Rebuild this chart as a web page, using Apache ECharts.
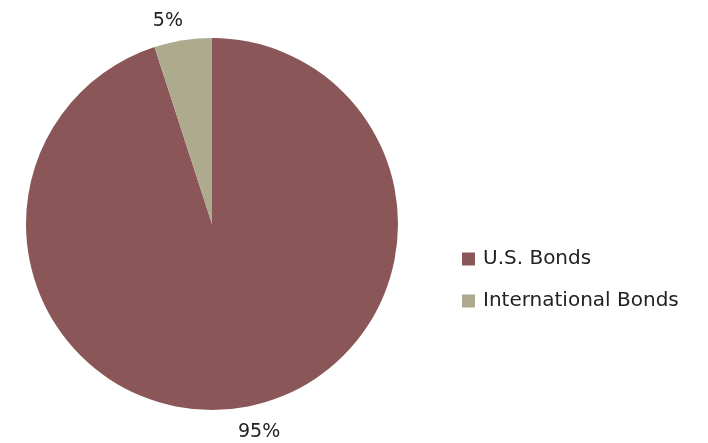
<!DOCTYPE html>
<html>
<head>
<meta charset="utf-8">
<script src="https://cdn.jsdelivr.net/npm/echarts@6/dist/echarts.min.js"></script>
<style>
html, body { margin: 0; padding: 0; background: #ffffff; }
#chart { width: 708px; height: 443px; }
</style>
</head>
<body>
<div id="chart"></div>
<script>
// Bond allocation, percent of total
var categories = ['U.S. Bonds', 'International Bonds'];
var values = [95, 5];
var colors = ['#8a5658', '#adaa8e'];

var chart = echarts.init(document.getElementById('chart'), null, { renderer: 'canvas' });

// label placement per slice: the right-side label sits a bit left of its anchor,
// the left-side one a bit right and closer to the rim
var labelPads = [[0, 0, 0, -12], [0, -8, 0, 0]];
var labelGaps = [25, 19];

var pieData = categories.map(function (name, i) {
  return {
    name: name,
    value: values[i],
    itemStyle: { color: colors[i] },
    label: { padding: labelPads[i] },
    labelLine: { show: false, length: labelGaps[i], length2: 0 }
  };
});

chart.setOption({
  animation: false,
  backgroundColor: '#ffffff',
  legend: {
    orient: 'vertical',
    left: 457,
    top: 244,
    itemWidth: 13,
    itemHeight: 13,
    itemGap: 22,
    icon: 'rect',
    textStyle: {
      fontFamily: 'DejaVu Sans',
      fontSize: 20,
      color: '#222222',
      padding: [0, 0, 0, 3]
    },
    data: categories
  },
  series: [{
    type: 'pie',
    center: [212, 224],
    radius: [0, 186],
    startAngle: 90,
    clockwise: true,
    avoidLabelOverlap: false,
    data: pieData,
    label: {
      show: true,
      position: 'outside',
      formatter: '{c}%',
      fontFamily: 'DejaVu Sans',
      fontSize: 19,
      color: '#222222'
    },
    labelLine: { show: false, length: 25, length2: 0 },
    emphasis: { disabled: true }
  }]
});
</script>
</body>
</html>
